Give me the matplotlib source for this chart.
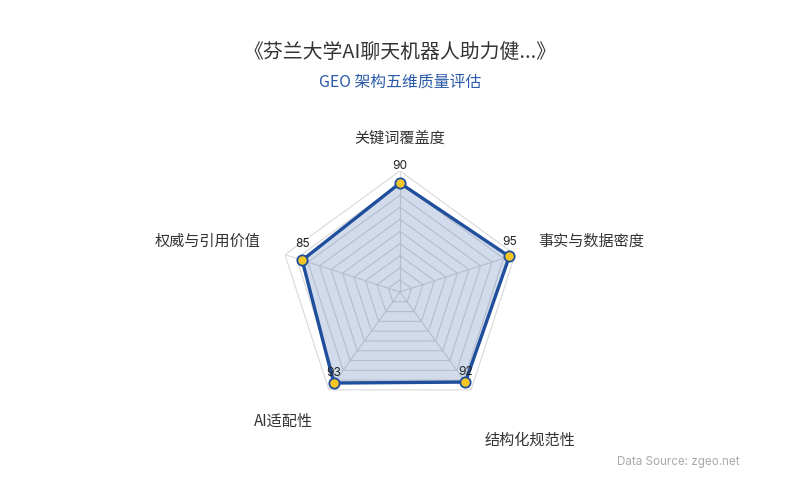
import numpy as np
import matplotlib
matplotlib.use("Agg")
import matplotlib.pyplot as plt

plt.rcParams['font.family'] = ['Noto Sans CJK SC', 'DejaVu Sans']

title = "《芬兰大学AI聊天机器人助力健...》"
subtitle = "GEO 架构五维质量评估"
source = "Data Source: zgeo.net"
categories = ["关键词覆盖度", "事实与数据密度", "结构化规范性", "AI适配性", "权威与引用价值"]
values = [90, 95, 92, 93, 85]
max_value = 100
split_number = 10

LINE = '#1f4e9c'
MARK = '#f4c623'
GRID = '#d9d9d9'

W, H = 800, 500
fig = plt.figure(figsize=(W / 100, H / 100), dpi=100)

cx, cy, R = 400, 292, 121
ax = fig.add_axes([(cx - R) / W, (H - cy - R) / H, 2 * R / W, 2 * R / H], projection='polar')
ax.set_theta_offset(np.pi / 2)
ax.set_theta_direction(-1)
ax.set_ylim(0, max_value)
ax.set_facecolor('none')
ax.grid(False)
ax.spines['polar'].set_visible(False)
ax.set_xticks([])
ax.set_yticks([])

n = len(categories)
theta = np.linspace(0, 2 * np.pi, n, endpoint=False)
theta_c = np.append(theta, theta[0])

# polygon split lines
for k in range(1, split_number + 1):
    r = max_value * k / split_number
    ax.plot(theta_c, [r] * (n + 1), color=GRID, lw=0.8, zorder=1)
# spokes
for t in theta:
    ax.plot([t, t], [0, max_value], color=GRID, lw=0.8, zorder=1)

vals_c = values + values[:1]
ax.fill(theta_c, vals_c, color=LINE, alpha=0.2, lw=0, zorder=2)
ax.plot(theta_c, vals_c, color=LINE, lw=2.4, zorder=3, solid_joinstyle='miter')
ax.plot(theta, values, ls='none', marker='o', ms=7.4, mfc=MARK, mec=LINE, mew=1.3,
        zorder=4, clip_on=False)

# value labels
val_offsets = [17, 14, 10, 10, 16]
for t, v, off in zip(theta, values, val_offsets):
    ax.annotate(str(v), (t, v), xytext=(0, off), textcoords='offset pixels',
                ha='center', va='center', fontsize=8.6, color='#222222',
                family=['Inter', 'DejaVu Sans'], zorder=5, annotation_clip=False)

# axis names
name_offsets = [(0, 33), (76, 13), (59, -50), (-45, -31), (-77, 13)]
for t, name, off in zip(theta, categories, name_offsets):
    ax.annotate(name, (t, max_value), xytext=off, textcoords='offset pixels',
                ha='center', va='center', fontsize=10.9, color='#333333',
                annotation_clip=False)

fig.text(0.5, 1 - 52 / H, title, ha='center', va='center', fontsize=14.3, color='#333333')
fig.text(0.5, 1 - 82 / H, subtitle, ha='center', va='center', fontsize=11.4, color='#2b5ba8')
fig.text(740 / W, 1 - 462 / H, source, ha='right', va='center', fontsize=8.4,
         color='#aaaaaa', family=['Inter', 'DejaVu Sans'])

fig.savefig('out.png', dpi=100)
